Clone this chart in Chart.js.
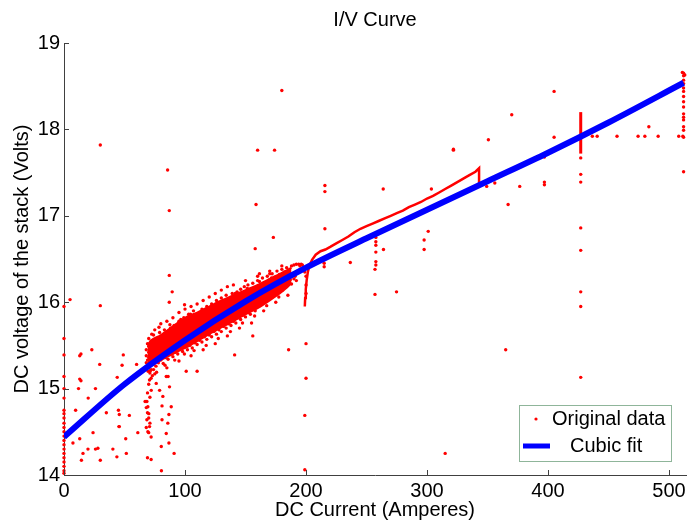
<!DOCTYPE html>
<html><head><meta charset="utf-8">
<script src="https://cdn.jsdelivr.net/npm/chart.js@4"></script>
<style>html,body{margin:0;padding:0;background:#fff}#wrap{width:690px;height:525px}</style>
</head><body><div id="wrap"><canvas id="c" width="690" height="525"></canvas></div>
<script>
// ---- data ----
const titleText = 'I/V Curve';
const xLabel = 'DC Current (Amperes)';
const yLabel = 'DC voltage of the stack (Volts)';
const xTicks = [0, 100, 200, 300, 400, 500];
const yTicks = [14, 15, 16, 17, 18, 19];

// cubic fit (blue), current (A) and voltage (V)
const fitCurrent = [0, 50, 100, 150, 200, 250, 300, 350, 400, 450, 512];
const fitVoltage = [14.44, 15.05, 15.56, 16.01, 16.40, 16.74, 17.07, 17.40, 17.73, 18.08, 18.54];

// solid core of the measurement cloud (edges), 69..188 A
const coreCurrent = [69, 72, 80, 90, 100, 110, 120, 130, 140, 150, 160, 170, 180, 188];
const coreUpper   = [15.50, 15.56, 15.62, 15.72, 15.82, 15.88, 15.95, 16.02, 16.08, 16.14, 16.20, 16.27, 16.34, 16.40];
const coreLower   = [15.30, 15.28, 15.33, 15.40, 15.47, 15.55, 15.63, 15.71, 15.78, 15.86, 15.93, 16.02, 16.12, 16.22];

// dense cloud of measurements, 68..200 A
const denseBand = [[68,15.30],[68,15.38],[68,15.45],[69,15.33],[69,15.52],[70,15.28],[70,15.36],[70,15.42],[70,15.49],[70,15.58],[71,15.32],[71,15.40],[71,15.47],[72,15.35],[72,15.44],[72,15.55],[73,15.30],[73,15.39],[73,15.50],[74,15.37],[74,15.45],[74,15.62],[75,15.33],[75,15.42],[75,15.53],[76,15.38],[76,15.47],[77,15.35],[77,15.44],[77,15.58],[78,15.40],[78,15.50],[79,15.37],[79,15.46],[79,15.65],[80,15.42],[80,15.53],[81,15.39],[81,15.48],[82,15.45],[82,15.57],[83,15.41],[83,15.51],[83,15.68],[84,15.47],[84,15.60],[85,15.43],[85,15.53],[86,15.49],[86,15.63],[87,15.45],[87,15.56],[88,15.52],[88,15.70],[89,15.48],[89,15.60],[90,15.44],[90,15.55],[90,15.66],[91,15.51],[91,15.73],[92,15.47],[92,15.58],[93,15.54],[93,15.64],[94,15.50],[94,15.61],[95,15.57],[95,15.78],[96,15.53],[96,15.66],[97,15.49],[97,15.60],[98,15.56],[98,15.70],[99,15.62],[99,15.82],[100,15.52],[100,15.65],[101,15.59],[101,15.74],[102,15.55],[102,15.68],[103,15.62],[103,15.86],[104,15.58],[104,15.71],[105,15.65],[105,15.79],[106,15.54],[106,15.68],[107,15.62],[107,15.90],[108,15.72],[108,15.60],[109,15.67],[109,15.80],[110,15.63],[110,15.75],[111,15.70],[111,15.58],[112,15.66],[112,15.84],[113,15.73],[114,15.68],[114,15.92],[115,15.77],[115,15.62],[116,15.72],[117,15.80],[117,15.66],[118,15.75],[118,15.95],[119,15.70],[120,15.80],[120,15.64],[121,15.86],[122,15.74],[122,15.98],[123,15.80],[124,15.70],[124,15.90],[125,15.84],[126,15.76],[126,16.02],[127,15.88],[128,15.80],[128,15.70],[129,15.93],[130,15.84],[130,16.05],[131,15.90],[132,15.78],[132,15.97],[133,15.88],[134,15.82],[134,16.08],[135,15.93],[136,15.86],[137,16.00],[137,15.78],[138,15.92],[139,16.10],[140,15.88],[140,15.98],[141,16.04],[142,15.84],[142,15.95],[143,16.12],[144,15.92],[145,16.02],[145,15.88],[146,16.15],[147,15.97],[148,16.06],[148,15.90],[149,16.18],[150,16.00],[151,16.10],[152,15.95],[152,16.20],[153,16.04],[154,16.14],[155,16.00],[156,16.22],[157,16.08],[158,16.17],[159,16.04],[160,16.25],[161,16.12],[162,16.20],[163,16.08],[164,16.28],[165,16.16],[166,16.23],[167,16.12],[168,16.30],[169,16.19],[170,16.26],[171,16.15],[172,16.33],[173,16.22],[174,16.29],[175,16.18],[176,16.36],[177,16.25],[178,16.32],[179,16.20],[180,16.38],[181,16.28],[182,16.35],[183,16.23],[184,16.40],[185,16.30],[186,16.37],[187,16.26],[188,16.42],[189,16.33],[190,16.43],[191,16.30],[192,16.44],[193,16.36],[194,16.44],[195,16.42],[196,16.44],[197,16.43],[198,16.40],[199,16.35]];
const bandLower = [[70,15.25],[72,15.22],[74,15.28],[76,15.26],[78,15.30],[80,15.33],[82,15.29],[84,15.36],[86,15.34],[88,15.40],[90,15.37],[92,15.42],[94,15.40],[96,15.46],[98,15.43],[100,15.48],[102,15.45],[104,15.50],[106,15.47],[108,15.53],[110,15.51],[112,15.56],[114,15.54],[116,15.60],[118,15.57],[120,15.62],[122,15.60],[124,15.66],[126,15.63],[128,15.68],[130,15.66],[132,15.72],[134,15.70],[136,15.75],[138,15.73],[140,15.78],[142,15.76],[144,15.82],[146,15.80],[148,15.85],[150,15.83],[152,15.88],[154,15.86],[156,15.92],[158,15.90],[160,15.95],[162,15.98],[164,16.01],[166,16.04],[168,16.02],[170,16.08],[172,16.06],[174,16.11],[176,16.14],[178,16.12],[180,16.17],[182,16.20],[184,16.18],[186,16.23],[188,16.21],[190,16.27],[192,16.25],[75,15.17],[85,15.24],[95,15.32],[105,15.38],[115,15.45],[125,15.52],[135,15.61],[145,15.70],[155,15.76],[165,15.90],[175,16.00],[185,16.08],[71.5,15.21],[76.5,15.19],[83.5,15.27],[91.5,15.33],[99.5,15.40],[107.5,15.44],[117.5,15.50],[127.5,15.58],[137.5,15.66],[147.5,15.76],[157.5,15.84],[167.5,15.96],[177.5,16.06]];
const bandUpper = [[75,15.68],[80,15.75],[85,15.78],[90,15.82],[95,15.88],[100,15.92],[105,15.95],[110,15.98],[115,16.02],[120,16.06],[125,16.10],[130,16.14],[135,16.18],[140,16.20],[150,16.25],[160,16.30],[170,16.36],[180,16.42],[72.5,15.63],[78.5,15.71],[87.5,15.74],[96.5,15.80],[104.5,15.86],[113.5,15.89],[121.5,15.95],[131.5,16.02],[141.5,16.10],[151.5,16.16],[161.5,16.24],[171.5,16.28]];
// column of points near 70 A below the cloud
const lowColumn = [[69.5,15.20],[70.7,15.10],[72.1,14.98],[68.5,14.85],[69.3,14.79],[70.1,14.71],[68.5,14.64],[70.7,14.56],[69.3,14.50],[72,14.44],[79,14.98],[81.7,14.91],[76.2,15.06],[84.5,15.14],[87.2,15.02],[88.6,14.79],[85.8,14.60],[84.5,14.48],[80.4,14.33],[67,14.85],[68,14.78],[69,14.72],[70,14.66],[71,14.60],[68,14.55],[70,14.49],[69,14.20],[72,14.18],[81,14.80],[81,14.64],[86.7,14.70],[86.7,14.37],[91,14.25],[80.5,14.05],[70,15.25],[71,15.18],[72,15.12],[70,15.05],[69,14.95],[71,14.90],[73,15.15],[74,15.22]];
// points at zero current
const zeroColumn = [[0,15.95],[0,15.58],[0,15.39],[0,15.14],[0,15.00],[0,14.89],[0,14.75],[0,14.71],[0,14.66],[0,14.60],[0,14.55],[0,14.50],[0,14.45],[0,14.40],[0,14.35],[0,14.30],[0,14.25],[0,14.20],[0,14.15],[0,14.10],[0,14.05],[0,14.02]];
// scattered outliers, low currents
const leftOutliers = [[5,16.03],[30,15.96],[14,15.40],[13,15.38],[23,15.45],[29.5,15.28],[13,15.11],[14,15.09],[12,15.00],[26,15.00],[20,14.89],[44,15.13],[49,15.39],[48,15.27],[60,15.28],[9.6,14.75],[35,14.72],[45,14.75],[54,14.69],[7.4,14.37],[13,14.42],[24,14.49],[15.7,14.25],[19.8,14.30],[26,14.30],[28,14.31],[14.4,14.17],[30,14.17],[40.4,14.30],[43.7,14.21],[45.4,14.56],[51,14.42],[51.5,14.25],[61,14.49],[45.7,14.70],[45.7,14.56],[30,17.82],[85.6,17.53],[87,17.06],[87,16.31],[89.4,16.12],[87,16.00],[99.6,15.97],[161.5,16.33],[170,16.33],[156,15.61],[141,15.39],[185.6,15.45],[101,15.20],[110,15.20],[86,15.14]];
// outliers, middle currents
const midOutliers = [[200,16.30],[200,16.20],[200,16.10],[200,15.52],[200,15.12],[199,14.69],[199,14.06],[160,17.76],[174,17.76],[180,18.45],[158.7,17.13],[173,16.75],[158,16.62],[215.6,17.35],[215.6,17.28],[215.6,16.85],[263.8,17.31],[321.8,17.76],[301,16.82],[297.6,16.72],[297.6,16.61],[257.7,16.75],[257.7,16.70],[257.7,16.66],[257.7,16.58],[257.7,16.47],[257.7,16.43],[257,16.38],[257,16.09],[264,16.61],[274.8,16.12],[236.6,16.46],[215,16.45],[215,16.41],[315,14.25],[365,15.45]];
// outliers, high currents
const rightOutliers = [[405,18.44],[370,18.17],[350.7,17.88],[321.8,17.77],[405,17.91],[397,17.68],[397,17.39],[397,17.36],[376.6,17.34],[356,17.38],[349.3,17.34],[303.6,17.31],[367,17.13],[483.3,18.03],[436.6,17.92],[440.6,17.92],[457,17.92],[474.4,17.92],[480,17.92],[491,17.92],[508,17.92],[511.4,17.92],[427,17.67],[427,17.48],[427,17.39],[427,16.86],[427,16.60],[427,16.12],[427,15.95],[427,15.13]];
// column at 512 A
const maxColumn = [[511,18.66],[512,18.65],[513,18.63],[512,18.62],[512,18.57],[512,18.53],[512,18.48],[512,18.44],[512,18.38],[512,18.32],[512,18.26],[512,18.18],[512,18.14],[512,18.11],[512,18.03],[512,17.99],[512,17.91],[512,17.51]];
// densely sampled trace that reads as a red line (200..343 A)
const redTrace = [[199,15.95],[199.3,16.05],[199.8,16.15],[200.5,16.25],[201.5,16.35],[203,16.43],[205,16.49],[208,16.55],[212,16.59],[216,16.61],[220,16.64],[225,16.68],[230,16.72],[235,16.76],[240,16.81],[245,16.85],[250,16.88],[255,16.91],[260,16.94],[265,16.97],[270,17.00],[275,17.03],[280,17.06],[285,17.10],[290,17.13],[295,17.16],[300,17.20],[305,17.23],[310,17.27],[315,17.31],[320,17.35],[325,17.39],[330,17.43],[335,17.47],[340,17.51],[343,17.55],[343,17.45],[343,17.33]];
// vertical run of samples at 427 A
const trace427 = [[427,17.72],[427,18.20]];

const legendLabels = ['Original data', 'Cubic fit'];

// ---- chart ----
const FONT = "'Liberation Sans', Arial, sans-serif";
const AXIS = '#404040';
const RED = '#ff0000';
const toXY = a => a.map(p => ({x: p[0], y: p[1]}));
const scatterPts = toXY([].concat(denseBand, bandLower, bandUpper, lowColumn, zeroColumn, leftOutliers, midOutliers, rightOutliers, maxColumn));

const decor = {
  id: 'decor',
  afterDatasetsDraw(chart) {
    const {ctx, chartArea: a, scales: {x, y}} = chart;
    ctx.save();
    ctx.strokeStyle = AXIS; ctx.lineWidth = 1;
    xTicks.forEach(v => { const px = Math.round(x.getPixelForValue(v)) + 0.5; ctx.beginPath(); ctx.moveTo(px, a.bottom); ctx.lineTo(px, a.bottom - 5); ctx.stroke(); });
    yTicks.forEach(v => { const py = Math.round(y.getPixelForValue(v)) + 0.5; ctx.beginPath(); ctx.moveTo(a.left, py); ctx.lineTo(a.left + 5, py); ctx.stroke(); });
    // legend box
    const bx = a.right - 167, by = a.bottom - 70, bw = 152, bh = 56;
    ctx.fillStyle = '#fff'; ctx.fillRect(bx, by, bw, bh);
    ctx.lineWidth = 1; ctx.strokeStyle = '#8fb59a'; ctx.strokeRect(bx + 0.5, by + 0.5, bw, bh);
    ctx.fillStyle = RED; ctx.beginPath(); ctx.arc(bx + 17, by + 14, 1.6, 0, Math.PI * 2); ctx.fill();
    ctx.strokeStyle = '#0000ff'; ctx.lineWidth = 5; ctx.beginPath(); ctx.moveTo(bx + 4, by + 41); ctx.lineTo(bx + 31, by + 41); ctx.stroke();
    ctx.fillStyle = '#000'; ctx.font = '20px ' + FONT; ctx.textBaseline = 'middle'; ctx.textAlign = 'left';
    ctx.fillText(legendLabels[0], bx + 33, by + 14);
    ctx.fillText(legendLabels[1], bx + 51, by + 41);
    ctx.restore();
  }
};

new Chart(document.getElementById('c'), {
  data: {
    datasets: [
      {type: 'line', label: legendLabels[1], data: fitCurrent.map((c, i) => ({x: c, y: fitVoltage[i]})), borderColor: '#0000ff', borderWidth: 6, pointRadius: 0, cubicInterpolationMode: 'monotone', fill: false},
      {type: 'line', label: 'trace', data: toXY(redTrace), borderColor: RED, borderWidth: 2.5, pointRadius: 0, tension: 0, fill: false},
      {type: 'line', label: 'trace427', data: toXY(trace427), borderColor: RED, borderWidth: 3, pointRadius: 0, fill: false},
      {type: 'scatter', label: legendLabels[0], data: scatterPts, backgroundColor: RED, borderWidth: 0, pointRadius: 1.7, clip: false},
      {type: 'line', label: 'coreLower', data: coreCurrent.map((c, i) => ({x: c, y: coreLower[i]})), borderColor: RED, borderWidth: 2, pointRadius: 0, tension: 0.3, fill: false},
      {type: 'line', label: 'coreUpper', data: coreCurrent.map((c, i) => ({x: c, y: coreUpper[i]})), borderColor: RED, borderWidth: 2, pointRadius: 0, tension: 0.3, fill: '-1', backgroundColor: RED}
    ]
  },
  options: {
    responsive: false, animation: false, devicePixelRatio: 1,
    layout: {padding: {left: 0, right: 3, top: 0, bottom: 0}},
    plugins: {
      legend: {display: false}, tooltip: {enabled: false},
      filler: {propagate: false},
      title: {display: true, text: titleText, fullSize: false, color: '#000', font: {family: FONT, size: 20, weight: 'normal'}, padding: {top: 8, bottom: 11}}
    },
    scales: {
      x: {type: 'linear', min: 0, max: 514,
        afterBuildTicks: s => { s.ticks = xTicks.map(v => ({value: v})); },
        afterFit: s => { s.height = 50; },
        grid: {display: false, drawTicks: false}, border: {display: true, color: AXIS, width: 1},
        ticks: {color: '#000', padding: 4, font: {family: FONT, size: 20}, maxRotation: 0},
        title: {display: true, text: xLabel, color: '#000', font: {family: FONT, size: 20}, padding: {top: 0, bottom: 3}}},
      y: {type: 'linear', min: 14, max: 19,
        afterBuildTicks: s => { s.ticks = yTicks.map(v => ({value: v})); },
        afterFit: s => { s.width = 64; },
        grid: {display: false, drawTicks: false}, border: {display: true, color: AXIS, width: 1},
        ticks: {color: '#000', padding: 4, font: {family: FONT, size: 20}},
        title: {display: true, text: yLabel, color: '#000', font: {family: FONT, size: 20}, padding: {top: 10, bottom: 0}}}
    }
  },
  plugins: [decor]
});
</script>
</body></html>
